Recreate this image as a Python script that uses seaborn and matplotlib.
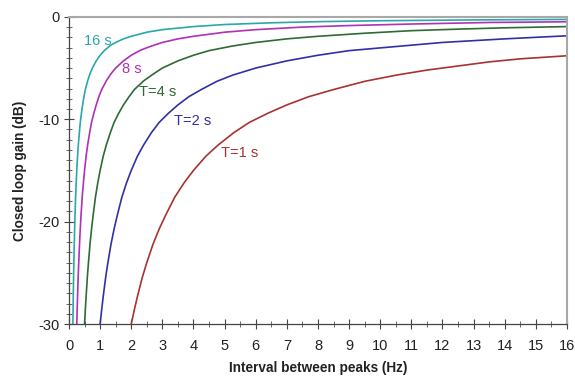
import matplotlib
matplotlib.use("Agg")
import matplotlib.pyplot as plt
import seaborn as sns
import pandas as pd
from matplotlib.ticker import MultipleLocator

# values (interval in Hz, gain in dB)
t1_x = [2, 2.1, 2.2, 2.35, 2.5, 2.7, 2.9, 3.1, 3.4, 3.7, 4, 4.4, 4.8, 5.3, 5.8, 6.4, 7,
        7.7, 8.5, 9.5, 10.5, 11.5, 12.5, 13.5, 14.5, 16]
t1_y = [-30, -28.6, -27.3, -25.5, -24, -22.2, -20.7, -19.4, -17.6, -16.2, -15, -13.6,
        -12.5, -11.3, -10.3, -9.4, -8.6, -7.8, -7.1, -6.3, -5.7, -5.2, -4.8, -4.4, -4.1,
        -3.8]

t2_x = [1, 1.05, 1.1, 1.18, 1.25, 1.35, 1.45, 1.55, 1.7, 1.85, 2, 2.2, 2.4, 2.65, 2.9,
        3.2, 3.5, 3.85, 4.25, 4.75, 5.25, 6, 7, 8, 9, 10.5, 12, 14, 16]
t2_y = [-30, -28.6, -27.3, -25.4, -24, -22.2, -20.7, -19.4, -17.6, -16.2, -15, -13.6,
        -12.5, -11.3, -10.3, -9.4, -8.6, -7.8, -7.1, -6.3, -5.7, -5, -4.3, -3.75, -3.3,
        -2.9, -2.5, -2.15, -1.85]

t4_x = [0.5, 0.525, 0.55, 0.59, 0.625, 0.675, 0.725, 0.775, 0.85, 0.925, 1, 1.1, 1.2,
        1.33, 1.45, 1.6, 1.75, 1.93, 2.1, 2.4, 2.7, 3, 3.5, 4, 4.5, 5.25, 6, 7, 8, 9.5,
        11, 12.5, 14, 16]
t4_y = [-30, -28.6, -27.3, -25.4, -24, -22.2, -20.7, -19.4, -17.6, -16.2, -15, -13.6,
        -12.5, -11.3, -10.3, -9.4, -8.6, -7.8, -7.1, -6.25, -5.6, -5, -4.3, -3.75, -3.3,
        -2.85, -2.5, -2.15, -1.9, -1.6, -1.35, -1.2, -1.07, -0.95]

t8_x = [0.25, 0.26, 0.275, 0.295, 0.31, 0.34, 0.36, 0.39, 0.425, 0.46, 0.5, 0.55, 0.6,
        0.665, 0.725, 0.8, 0.875, 0.96, 1.05, 1.2, 1.35, 1.5, 1.75, 2, 2.3, 2.65, 3, 3.5,
        4, 5, 6, 7.5, 9, 11, 13.5, 16]
t8_y = [-30, -28.8, -27.3, -25.4, -24.2, -22.1, -20.8, -19.2, -17.6, -16.3, -15, -13.6,
        -12.5, -11.3, -10.3, -9.4, -8.6, -7.8, -7.1, -6.25, -5.55, -5, -4.3, -3.75, -3.25,
        -2.85, -2.5, -2.15, -1.9, -1.5, -1.25, -1, -0.85, -0.7, -0.55, -0.48]

t16_x = [0.125, 0.13, 0.138, 0.147, 0.156, 0.169, 0.181, 0.194, 0.213, 0.231, 0.25,
         0.275, 0.3, 0.333, 0.363, 0.4, 0.438, 0.48, 0.525, 0.6, 0.675, 0.75, 0.875, 1,
         1.15, 1.33, 1.5, 1.75, 2, 2.5, 3, 4, 5, 6.5, 8, 10, 13, 16]
t16_y = [-30, -28.8, -27.2, -25.5, -24, -22.2, -20.7, -19.3, -17.6, -16.2, -15, -13.6,
         -12.5, -11.3, -10.3, -9.4, -8.6, -7.8, -7.1, -6.25, -5.55, -5, -4.3, -3.75,
         -3.25, -2.8, -2.5, -2.15, -1.9, -1.5, -1.25, -0.95, -0.75, -0.58, -0.47, -0.38,
         -0.3, -0.25]

labels = ["T=1 s", "T=2 s", "T=4 s", "8 s", "16 s"]
colors = ["#a83232", "#3030a8", "#2f6a35", "#b030b8", "#2aa8a8"]
label_x = [5.47, 3.98, 2.86, 2.03, 0.93]
label_y = [-13.3, -10.2, -7.3, -5.1, -2.35]

sns.set_style("white")
plt.rcParams["font.family"] = ["Liberation Sans", "DejaVu Sans"]
plt.rcParams["axes.unicode_minus"] = False

fig = plt.figure(figsize=(5.75, 3.83), dpi=100)
ax = fig.add_axes([0.12, 0.154, 0.866, 0.802])

curves = [(t1_x, t1_y), (t2_x, t2_y), (t4_x, t4_y), (t8_x, t8_y), (t16_x, t16_y)]
for (xs, ys), lab, col, lx, ly in zip(curves, labels, colors, label_x, label_y):
    df = pd.DataFrame({"x": xs, "y": ys})
    sns.lineplot(data=df, x="x", y="y", ax=ax, color=col, linewidth=1.2,
                 sort=False, estimator=None)
    ax.text(lx, ly, lab, color=col, fontsize=10.5, ha="center", va="center")

ax.set_xlim(0, 16)
ax.set_ylim(-30, 0)
ax.xaxis.set_major_locator(MultipleLocator(1))
ax.xaxis.set_minor_locator(MultipleLocator(0.5))
ax.yaxis.set_major_locator(MultipleLocator(10))
ax.yaxis.set_minor_locator(MultipleLocator(1))
ax.tick_params(which="major", direction="inout", length=7, width=0.8, color="#444444",
               labelsize=10.5, labelcolor="#222222")
ax.tick_params(which="minor", direction="inout", length=4, width=0.7, color="#666666")
ax.tick_params(axis="x", which="major", pad=7)
ax.tick_params(axis="x", which="both", bottom=True)
ax.tick_params(axis="y", which="both", left=True)

for side in ["left", "bottom"]:
    ax.spines[side].set_color("#444444")
    ax.spines[side].set_linewidth(0.9)
for side in ["top", "right"]:
    ax.spines[side].set_color("#a8a8a8")
    ax.spines[side].set_linewidth(1.5)

ax.set_xlabel("Interval between peaks (Hz)", fontsize=9.8, fontweight="bold",
              color="#222222", labelpad=6)
ax.set_ylabel("Closed loop gain (dB)", fontsize=9.8, fontweight="bold",
              color="#222222", labelpad=8)

fig.savefig("out.png", dpi=100)
